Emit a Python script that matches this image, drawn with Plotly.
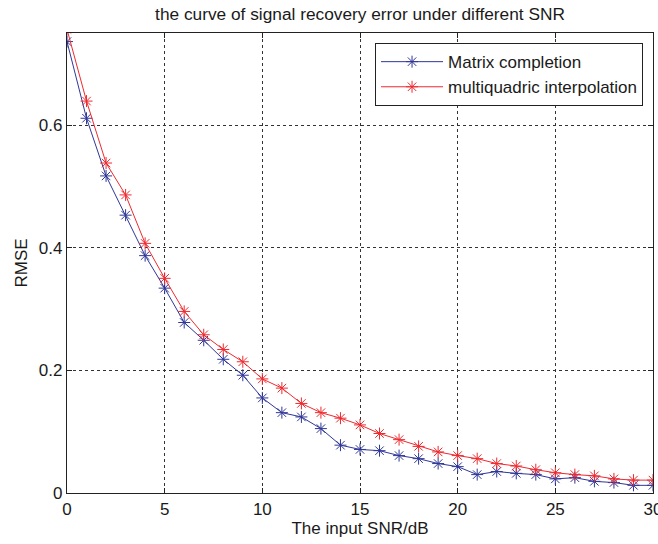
import plotly.graph_objects as go

snr = list(range(0, 31))
matrix_completion = [0.736, 0.611, 0.517, 0.453, 0.387, 0.334, 0.278, 0.249, 0.218, 0.192, 0.155,
                     0.131, 0.124, 0.105, 0.078, 0.071, 0.069, 0.061, 0.056, 0.048, 0.043,
                     0.030, 0.035, 0.032, 0.030, 0.023, 0.025, 0.019, 0.017, 0.0125, 0.0125]
multiquadric = [0.756, 0.639, 0.538, 0.486, 0.407, 0.350, 0.296, 0.258, 0.234, 0.214, 0.186,
                0.171, 0.146, 0.131, 0.122, 0.111, 0.097, 0.087, 0.076, 0.067, 0.061,
                0.056, 0.048, 0.044, 0.038, 0.033, 0.030, 0.028, 0.023, 0.021, 0.021]

x_ticks = [0, 5, 10, 15, 20, 25, 30]
y_ticks = [0, 0.2, 0.4, 0.6]
y_tick_labels = ["0", "0.2", "0.4", "0.6"]

font = "Liberation Sans, Arial, sans-serif"
blue = "#2f3797"
red = "#ee2a2f"
txt = "#1a1a1a"

fig = go.Figure()
fig.add_trace(go.Scatter(
    x=snr, y=matrix_completion, mode="lines+markers", name="Matrix completion",
    line=dict(color=blue, width=1),
    marker=dict(symbol="asterisk-open", size=10, line=dict(color=blue, width=1), color=blue),
))
fig.add_trace(go.Scatter(
    x=snr, y=multiquadric, mode="lines+markers", name="multiquadric interpolation",
    line=dict(color=red, width=1),
    marker=dict(symbol="asterisk-open", size=10, line=dict(color=red, width=1), color=red),
))

axis_common = dict(
    showline=True, linecolor="#222", linewidth=1.3, mirror="ticks",
    ticks="inside", ticklen=5, tickcolor="#222",
    showgrid=True, gridcolor="#333", gridwidth=1, griddash="3px,3px",
    zeroline=False, tickfont=dict(family=font, size=17, color=txt),
    ticklabeloverflow="allow", automargin=False,
)

fig.update_layout(
    width=658, height=544,
    margin=dict(l=67, r=5, t=33, b=51, autoexpand=False),
    paper_bgcolor="white", plot_bgcolor="white",
    title=dict(text="the curve of signal recovery error under different SNR",
               x=(67 + 653) / 2 / 658, xanchor="center", y=1 - 14 / 544, yanchor="middle",
               font=dict(family=font, size=17.3, color=txt)),
    xaxis=dict(range=[0, 30], tickvals=x_ticks,
               title=dict(text="The input SNR/dB", font=dict(family=font, size=17, color=txt), standoff=1),
               **axis_common),
    yaxis=dict(range=[0, 0.75], tickvals=y_ticks, ticktext=y_tick_labels,
               title=dict(text="RMSE", font=dict(family=font, size=17, color=txt), standoff=6),
               **axis_common),
    legend=dict(x=0.983, xanchor="right", y=0.978, yanchor="top",
                bgcolor="white", bordercolor="#222", borderwidth=1,
                font=dict(family=font, size=17, color=txt),
                itemwidth=62, tracegroupgap=0),
    showlegend=True,
)

fig.write_html("out.html")
